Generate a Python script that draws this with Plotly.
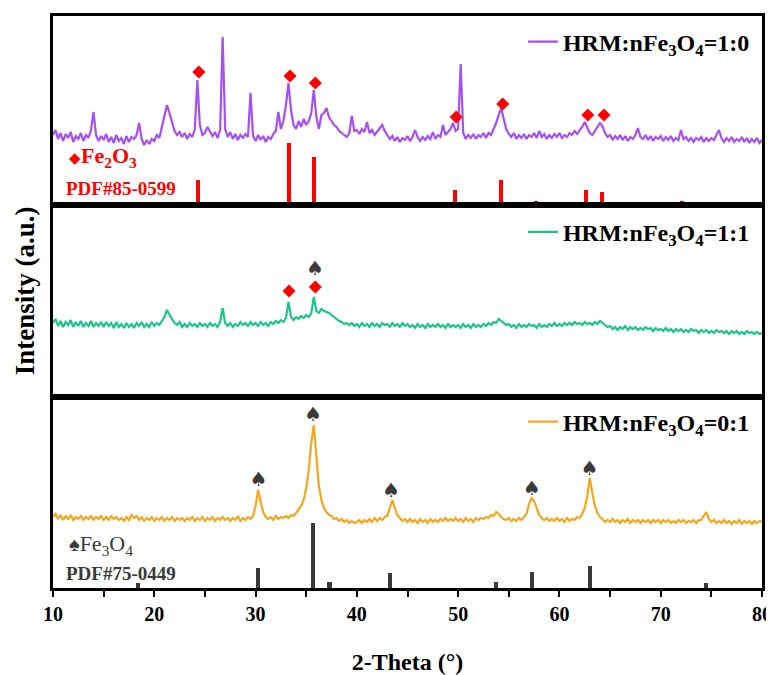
import numpy as np
import plotly.graph_objects as go
from plotly.subplots import make_subplots

# ---------------- data ----------------
X_START, X_END, X_STEP = 10, 80, 0.25
two_theta = np.round(np.arange(X_START, X_END + 1e-9, X_STEP), 2)

# HRM:nFe3O4 = 1:0 (purple), read every 0.25 deg
hrm_1_0 = (
    [70, 75, 66, 72, 64, 71, 67, 73, 63, 69, 66, 72, 64, 70, 67, 75, 93, 70, 64, 69]
    + [65, 71, 63, 68, 62, 70, 64, 67, 61, 69, 63, 68, 66, 70, 82, 66, 60, 65, 61, 66]
    + [64, 70, 67, 78, 88, 100, 92, 82, 74, 70, 73, 68, 72, 66, 71, 68, 76, 125, 80, 70]
    + [72, 78, 74, 69, 73, 67, 75, 168, 76, 68, 73, 66, 71, 65, 70, 67, 71, 68, 112, 69]
    + [64, 70, 65, 69, 63, 68, 66, 71, 74, 93, 76, 84, 100, 122, 95, 80, 76, 84, 78, 86]
    + [80, 84, 92, 115, 88, 76, 90, 92, 97, 88, 84, 80, 78, 74, 72, 70, 68, 72, 89, 74]
    + [75, 71, 76, 73, 83, 72, 75, 70, 73, 76, 80, 74, 70, 66, 69, 64, 68, 63, 67, 65]
    + [69, 64, 68, 75, 68, 64, 68, 65, 69, 66, 73, 66, 70, 68, 80, 70, 73, 76, 82, 74]
    + [76, 141, 72, 66, 70, 67, 71, 66, 70, 68, 72, 67, 72, 70, 76, 82, 90, 97, 86, 76]
    + [71, 68, 72, 66, 70, 67, 71, 66, 70, 68, 72, 67, 74, 68, 71, 66, 70, 67, 71, 68]
    + [72, 67, 70, 68, 72, 70, 74, 71, 75, 78, 83, 78, 72, 70, 74, 77, 82, 79, 72, 68]
    + [70, 65, 69, 66, 70, 65, 69, 64, 68, 66, 70, 77, 68, 66, 70, 65, 69, 64, 68, 66]
    + [69, 64, 68, 65, 69, 64, 67, 65, 75, 66, 68, 64, 67, 63, 67, 65, 68, 63, 67, 64]
    + [67, 65, 70, 75, 67, 63, 67, 64, 68, 63, 66, 64, 68, 63, 67, 62, 66, 63, 67, 62, 65]
)

# HRM:nFe3O4 = 1:1 (green)
hrm_1_1 = (
    [74, 78, 71, 76, 70, 75, 72, 77, 70, 75, 71, 76, 70, 74, 71, 76, 70, 74, 71, 75]
    + [70, 75, 71, 74, 69, 75, 70, 73, 69, 74, 70, 73, 69, 74, 71, 75, 70, 73, 70, 75]
    + [71, 74, 72, 76, 80, 87, 82, 78, 74, 72, 75, 70, 73, 70, 74, 71, 73, 70, 74, 71]
    + [73, 70, 74, 71, 73, 70, 75, 89, 74, 71, 74, 70, 73, 71, 75, 72, 74, 71, 75, 72]
    + [74, 71, 75, 72, 74, 71, 75, 73, 76, 74, 77, 75, 79, 95, 80, 77, 80, 78, 81, 79]
    + [82, 80, 84, 100, 86, 84, 88, 86, 85, 84, 82, 80, 78, 76, 75, 73, 74, 72, 74, 71]
    + [73, 70, 74, 71, 73, 70, 74, 71, 73, 70, 74, 72, 73, 70, 74, 71, 73, 70, 74, 71]
    + [73, 70, 72, 69, 73, 70, 72, 69, 73, 70, 72, 70, 73, 70, 72, 69, 73, 70, 72, 70]
    + [72, 69, 73, 70, 72, 69, 73, 70, 72, 70, 73, 71, 74, 72, 75, 74, 78, 76, 74, 72]
    + [73, 70, 72, 69, 73, 70, 72, 70, 73, 71, 72, 69, 73, 70, 72, 70, 73, 71, 74, 71]
    + [73, 71, 74, 72, 74, 72, 75, 73, 74, 72, 75, 73, 74, 72, 75, 73, 76, 74, 72, 70]
    + [71, 68, 70, 67, 70, 68, 71, 67, 70, 68, 70, 67, 69, 67, 70, 68, 69, 66, 69, 67]
    + [68, 66, 69, 66, 68, 65, 68, 66, 68, 65, 67, 65, 68, 66, 67, 64, 67, 65, 67, 64]
    + [66, 64, 67, 65, 66, 64, 66, 63, 66, 64, 66, 63, 65, 63, 66, 64, 65, 63, 65, 63, 64]
)

# HRM:nFe3O4 = 0:1 (orange)
hrm_0_1 = (
    [71, 74, 69, 73, 68, 72, 69, 73, 68, 71, 69, 72, 68, 71, 69, 72, 68, 71, 69, 72]
    + [68, 71, 68, 72, 69, 71, 68, 70, 67, 71, 68, 73, 70, 72, 68, 71, 67, 70, 68, 71]
    + [67, 70, 68, 71, 67, 70, 68, 71, 67, 70, 68, 70, 67, 70, 68, 71, 67, 70, 68, 71]
    + [67, 70, 68, 71, 67, 70, 68, 71, 68, 70, 67, 70, 68, 72, 67, 70, 68, 71, 69, 72]
    + [82, 98, 86, 76, 71, 69, 71, 68, 72, 69, 71, 70, 72, 70, 73, 72, 75, 78, 82, 88]
    + [100, 118, 145, 163, 130, 102, 88, 80, 76, 73, 72, 69, 70, 67, 69, 66, 68, 65, 67, 65]
    + [66, 68, 65, 68, 66, 69, 66, 70, 67, 70, 68, 71, 72, 80, 88, 80, 73, 70, 67, 69]
    + [66, 69, 66, 68, 65, 69, 66, 68, 65, 69, 66, 68, 66, 69, 67, 70, 67, 69, 67, 70]
    + [67, 69, 66, 70, 67, 69, 66, 70, 68, 70, 69, 71, 70, 73, 72, 76, 74, 71, 69, 68]
    + [70, 67, 69, 67, 70, 68, 71, 74, 84, 90, 87, 80, 73, 70, 68, 70, 67, 69, 67, 70]
    + [67, 69, 66, 70, 67, 69, 68, 71, 70, 74, 80, 92, 110, 95, 82, 75, 71, 69, 66, 68]
    + [66, 69, 66, 68, 65, 68, 66, 69, 65, 68, 66, 68, 65, 68, 66, 68, 65, 68, 66, 68]
    + [65, 68, 66, 68, 65, 67, 65, 68, 66, 68, 65, 67, 66, 68, 65, 68, 68, 72, 76, 69]
    + [66, 68, 65, 67, 65, 68, 65, 67, 64, 67, 65, 68, 64, 67, 65, 67, 64, 67, 65, 67, 66]
)

# standard patterns
fe2o3_pdf_pos = [24.3, 33.3, 35.8, 49.7, 54.2, 57.7, 62.6, 64.2, 72.1, 75.7]
fe2o3_pdf_int = [25, 62, 48, 15, 25, 4, 15, 13, 4, 2]
fe3o4_pdf_pos = [18.4, 30.2, 35.7, 37.3, 43.3, 53.7, 57.3, 63.0, 74.5]
fe3o4_pdf_int = [5, 20, 65, 6, 15, 6, 16, 22, 5]

# phase markers
p1_fe2o3_x = [24.4, 33.4, 35.9, 49.8, 54.4, 62.8, 64.4]
p1_fe2o3_y = [133, 129, 122, 88, 101, 90, 90]
p2_fe2o3_x = [33.3, 35.9]
p2_fe2o3_y = [106, 110]
p2_fe3o4_x = [35.9]
p2_fe3o4_y = [127]
p3_fe3o4_x = [30.3, 35.7, 43.4, 57.3, 63.0]
p3_fe3o4_y = [107, 172, 96, 98, 118]

series_names = ["HRM:nFe<sub>3</sub>O<sub>4</sub>=1:0",
                "HRM:nFe<sub>3</sub>O<sub>4</sub>=1:1",
                "HRM:nFe<sub>3</sub>O<sub>4</sub>=0:1"]

# ---------------- style ----------------
PURPLE = "#A64FF4"
GREEN = "#1CC48D"
ORANGE = "#F2A71E"
RED = "#FF0000"
DARK = "#3A3A3A"
SERIF = "Liberation Serif"
LW = 2.2

fig = make_subplots(rows=3, cols=1, shared_xaxes=True, vertical_spacing=0,
                    row_heights=[189, 192, 191])

# panel 1
fig.add_trace(go.Scatter(x=two_theta, y=hrm_1_0, mode="lines", name=series_names[0],
                         line=dict(color=PURPLE, width=LW), legend="legend"), row=1, col=1)
fig.add_trace(go.Bar(x=fe2o3_pdf_pos, y=fe2o3_pdf_int, width=0.4, marker_color=RED,
                     marker_line_width=0, showlegend=False), row=1, col=1)
fig.add_trace(go.Scatter(x=p1_fe2o3_x, y=p1_fe2o3_y, mode="markers",
                         marker=dict(symbol="diamond", size=10, color=RED),
                         showlegend=False), row=1, col=1)

# panel 2
fig.add_trace(go.Scatter(x=two_theta, y=hrm_1_1, mode="lines", name=series_names[1],
                         line=dict(color=GREEN, width=LW), legend="legend2"), row=2, col=1)
fig.add_trace(go.Scatter(x=p2_fe2o3_x, y=p2_fe2o3_y, mode="markers",
                         marker=dict(symbol="diamond", size=10, color=RED),
                         showlegend=False), row=2, col=1)
fig.add_trace(go.Scatter(x=p2_fe3o4_x, y=p2_fe3o4_y, mode="text", text=["♠"] * len(p2_fe3o4_x),
                         textfont=dict(family="DejaVu Sans", size=20, color=DARK),
                         showlegend=False), row=2, col=1)

# panel 3
fig.add_trace(go.Scatter(x=two_theta, y=hrm_0_1, mode="lines", name=series_names[2],
                         line=dict(color=ORANGE, width=LW), legend="legend3"), row=3, col=1)
fig.add_trace(go.Bar(x=fe3o4_pdf_pos, y=fe3o4_pdf_int, width=0.4, marker_color=DARK,
                     marker_line_width=0, showlegend=False), row=3, col=1)
fig.add_trace(go.Scatter(x=p3_fe3o4_x, y=p3_fe3o4_y, mode="text", text=["♠"] * len(p3_fe3o4_x),
                         textfont=dict(family="DejaVu Sans", size=20, color=DARK),
                         showlegend=False), row=3, col=1)

axis_common = dict(showline=True, linecolor="black", linewidth=3, mirror=True,
                   showgrid=False, zeroline=False)
fig.update_xaxes(range=[10, 80], **axis_common)
fig.update_xaxes(showticklabels=False, ticks="", row=1, col=1)
fig.update_xaxes(showticklabels=False, ticks="", row=2, col=1)
fig.update_xaxes(ticks="outside", ticklen=6, tickwidth=2, tickcolor="black", dtick=10, tick0=10,
                 minor=dict(dtick=5, ticks="outside", ticklen=6, tickwidth=2, tickcolor="black"),
                 tickfont=dict(family=SERIF, size=20, color="black", weight="bold"),
                 title=dict(text="<b>2-Theta (°)</b>", font=dict(family=SERIF, size=24, color="black"),
                            standoff=30),
                 row=3, col=1)
fig.update_yaxes(showticklabels=False, ticks="", **axis_common)
fig.update_yaxes(range=[0, 189], row=1, col=1)
fig.update_yaxes(range=[0, 192], row=2, col=1)
fig.update_yaxes(range=[0, 191], row=3, col=1)

# phase labels
fig.add_annotation(x=11.4, y=48, xref="x", yref="y", xanchor="left", yanchor="middle", showarrow=False,
                   text="<span style='font-size:15px'>◆</span><b>Fe<sub>2</sub>O<sub>3</sub></b>",
                   font=dict(family=SERIF, size=22, color=RED))
fig.add_annotation(x=11.1, y=17, xref="x", yref="y", xanchor="left", yanchor="middle", showarrow=False,
                   text="<b>PDF#85-0599</b>", font=dict(family=SERIF, size=19, color=RED))
fig.add_annotation(x=11.4, y=43, xref="x3", yref="y3", xanchor="left", yanchor="middle", showarrow=False,
                   text="<span style='font-size:20px'>♠</span>Fe<sub>3</sub>O<sub>4</sub>",
                   font=dict(family=SERIF, size=22, color=DARK))
fig.add_annotation(x=11.1, y=15, xref="x3", yref="y3", xanchor="left", yanchor="middle", showarrow=False,
                   text="<b>PDF#75-0449</b>", font=dict(family=SERIF, size=19, color=DARK))

# y title
fig.add_annotation(x=-0.04, y=0.52, xref="paper", yref="paper", xanchor="center", yanchor="middle",
                   showarrow=False, textangle=-90, text="<b>Intensity (a.u.)</b>",
                   font=dict(family=SERIF, size=27, color="black"))

legend_style = dict(xanchor="right", yanchor="middle", x=0.99, bgcolor="rgba(0,0,0,0)",
                    font=dict(family=SERIF, size=24, color="black", weight="bold"))
# the page puts the figure 8 px in from the top-left corner of the window
fig.update_layout(
    width=766, height=667,
    margin=dict(l=45, r=12, t=8, b=87, autoexpand=False),
    paper_bgcolor="white", plot_bgcolor="white",
    font=dict(family=SERIF, color="black"),
    legend=dict(y=0.9545, **legend_style),
    legend2=dict(y=0.622, **legend_style),
    legend3=dict(y=0.290, **legend_style),
    bargap=0,
)

fig.write_html("out.html")
